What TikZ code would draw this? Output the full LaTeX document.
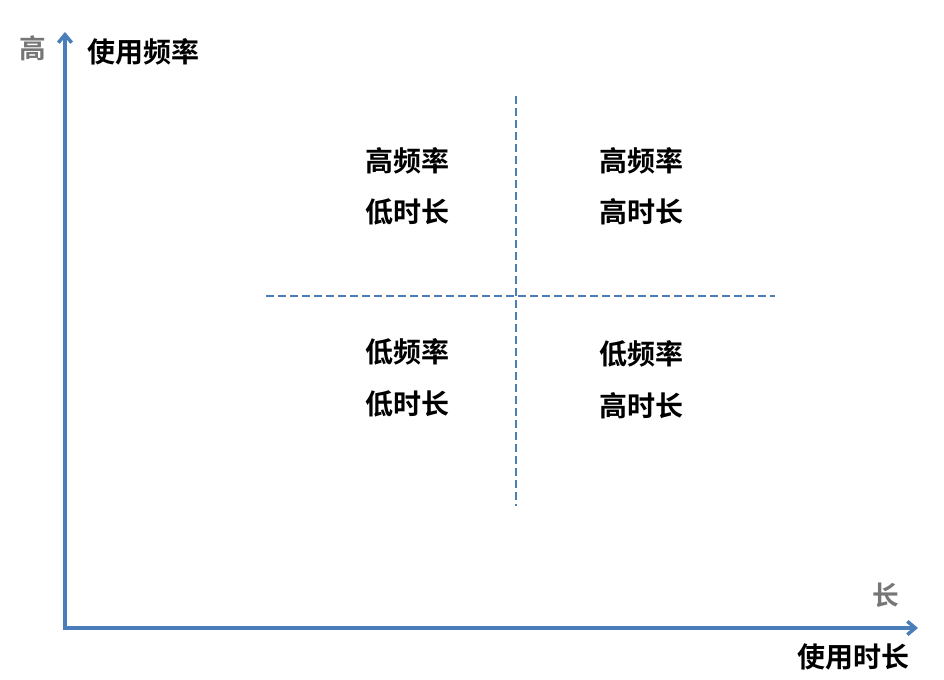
\documentclass[tikz,border=0pt]{standalone}
\usepackage{fontspec}
\newfontfamily\cjk{Noto Sans CJK SC Bold}
\usetikzlibrary{arrows.meta}
\definecolor{axisblue}{HTML}{4A7EBB}
\definecolor{tickgray}{HTML}{767676}
\tikzset{
    axis/.style={axisblue, line width=2.6pt, -{Straight Barb[length=6pt, width=10pt]}},
    split/.style={axisblue, line width=2pt, dash pattern=on 6pt off 3pt},
    quad/.style={font=\cjk\fontsize{21}{25}\selectfont, align=center, inner sep=0pt},
    ends/.style={font=\cjk\fontsize{20}{24}\selectfont, text=tickgray, inner sep=0pt},
}
\begin{document}
\begin{tikzpicture}[x=0.75pt, y=-0.75pt]
            \useasboundingbox (0,0) rectangle (944,680);
            \coordinate (origin) at (65,628);
            \coordinate (ytop) at (65,32);
            \coordinate (xend) at (918,628);
            \draw[axis] (origin) -- (ytop);
            \draw[axis] (63,628) -- (xend);
            % quadrant lines
            \coordinate (vtop) at (516,96);
            \coordinate (vbot) at (516,506);
            \coordinate (hleft) at (266,296);
            \coordinate (hright) at (775,296);
            \draw[split] (vtop) -- (vbot);
            \draw[split] (hleft) -- (hright);
            \node[ends] (high) at (33,48) {高};
            \node[ends] (long) at (886,595) {长};
            \node[quad] (freq) at (143,52) {使用频率};
            \node[quad] (dur) at (853,657) {使用时长};
            \node[quad] (q1) at (407,161) {高频率};
            \node[quad] (q1b) at (407,212) {低时长};
            \node[quad] (q2) at (641,161) {高频率};
            \node[quad] (q2b) at (641,212) {高时长};
            \node[quad] (q3) at (407,352) {低频率};
            \node[quad] (q3b) at (407,404) {低时长};
            \node[quad] (q4) at (641,354) {低频率};
            \node[quad] (q4b) at (641,406) {高时长};
        \end{tikzpicture}
\end{document}
